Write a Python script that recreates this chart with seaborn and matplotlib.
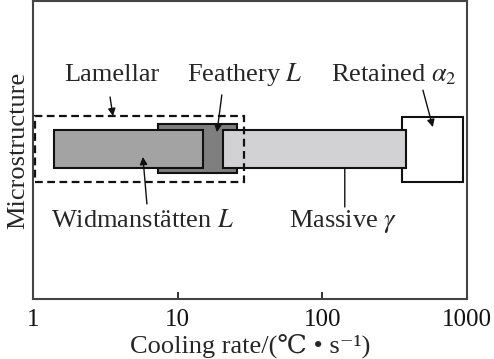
import matplotlib
matplotlib.use("Agg")
import matplotlib.pyplot as plt
import seaborn as sns

# ---- data (cooling-rate ranges, °C/s) ----
phases = ["Retained", "Feathery", "Widmanstatten", "Massive"]
rate_low = [355, 7.3, 1.40, 20.6]
rate_high = [940, 25.7, 15.0, 378]
y_low = [3.93, 4.23, 4.40, 4.40]
y_high = [6.11, 5.87, 5.67, 5.67]
fills = ["#ffffff", "#7f7f7f", "#a3a3a3", "#d2d2d4"]

lamellar_low, lamellar_high = 1.03, 28.7
lamellar_ylow, lamellar_yhigh = 3.93, 6.14

xticks = [1, 10, 100, 1000]
xtick_labels = ["1", "10", "100", "1000"]

sns.set_style("ticks")
plt.rcParams["font.family"] = ["Liberation Serif", "DejaVu Serif"]
plt.rcParams["mathtext.fontset"] = "stix"

fig = plt.figure(figsize=(4.94, 3.59), dpi=100)
ax = fig.add_axes([0.0668, 0.167, 0.8785, 0.830])
ax.set_xscale("log")
ax.set_xlim(1, 1000)
ax.set_ylim(0, 10)

for lo, hi, yl, yh, fc in zip(rate_low, rate_high, y_low, y_high, fills):
    ax.barh(y=(yl + yh) / 2, width=hi - lo, left=lo, height=yh - yl,
            color=fc, edgecolor="#111111", linewidth=1.5, zorder=2)

ax.barh(y=(lamellar_ylow + lamellar_yhigh) / 2, width=lamellar_high - lamellar_low,
        left=lamellar_low, height=lamellar_yhigh - lamellar_ylow,
        fill=False, edgecolor="#111111", linewidth=1.6, linestyle=(0, (3.5, 2)), zorder=3)

fs = 19
arrow = dict(arrowstyle="-|>", color="#111111", lw=1.0, mutation_scale=11,
             shrinkA=0, shrinkB=0)
line = dict(arrowstyle="-", color="#111111", lw=1.0, shrinkA=0, shrinkB=0)

ax.text(3.49, 7.32, "Lamellar", fontsize=fs, ha="center", va="baseline")
ax.annotate("", xy=(3.57, 6.14), xytext=(3.41, 6.78), arrowprops=arrow)

ax.text(28.9, 7.32, r"Feathery $L$", fontsize=fs, ha="center", va="baseline")
ax.annotate("", xy=(18.7, 5.60), xytext=(20.2, 6.85), arrowprops=arrow)

ax.text(312, 7.32, r"Retained $\alpha_2$", fontsize=fs, ha="center", va="baseline")
ax.annotate("", xy=(581, 5.77), xytext=(496, 7.01), arrowprops=arrow)

ax.text(5.75, 2.42, r"Widmanstätten $L$", fontsize=fs, ha="center", va="baseline")
ax.annotate("", xy=(5.75, 4.77), xytext=(6.13, 3.19), arrowprops=arrow)

ax.text(140, 2.42, r"Massive $\gamma$", fontsize=fs, ha="center", va="baseline")
ax.annotate("", xy=(143, 4.40), xytext=(143, 3.09), arrowprops=line)

ax.set_xticks(xticks)
ax.set_xticklabels(xtick_labels, fontsize=18)
ax.xaxis.set_minor_locator(matplotlib.ticker.NullLocator())
ax.tick_params(axis="x", direction="in", length=5, width=1.2, pad=7, colors="#111111")
ax.tick_params(axis="x", labelcolor="#111111")
ax.set_yticks([])
for s in ax.spines.values():
    s.set_visible(True)
    s.set_color("#444444")
    s.set_linewidth(1.5)

ax.set_ylabel("Microstructure", fontsize=fs, labelpad=3)
ax.set_xlabel("Cooling rate/(℃ • s⁻¹)", fontsize=fs, labelpad=2,
              family=["Liberation Serif", "DejaVu Serif", "DejaVu Sans"])

fig.savefig("out.png", dpi=100)
